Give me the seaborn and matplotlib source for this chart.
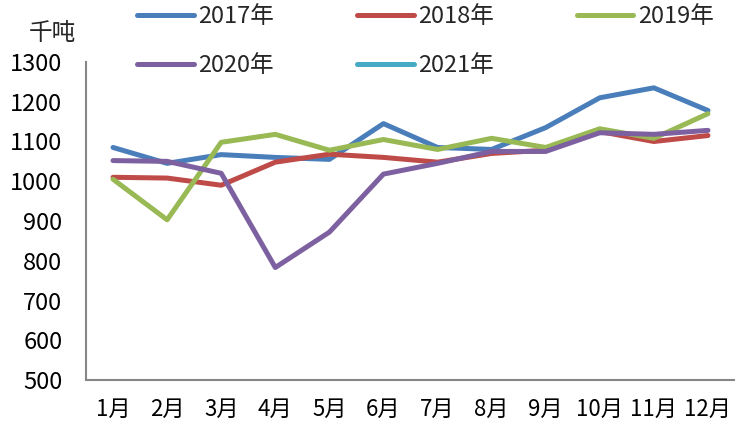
import pandas as pd
import seaborn as sns
import matplotlib
matplotlib.use("Agg")
import matplotlib.pyplot as plt
from matplotlib.ticker import FixedLocator, MultipleLocator

# monthly output, thousand tonnes
months = ["1月", "2月", "3月", "4月", "5月", "6月", "7月", "8月", "9月", "10月", "11月", "12月"]
y2017 = [1085, 1045, 1067, 1060, 1055, 1145, 1085, 1080, 1135, 1210, 1235, 1178]
y2018 = [1010, 1008, 990, 1048, 1068, 1060, 1048, 1070, 1078, 1125, 1100, 1115]
y2019 = [1005, 903, 1098, 1118, 1078, 1105, 1080, 1108, 1085, 1132, 1108, 1170]
y2020 = [1052, 1050, 1020, 783, 872, 1018, 1045, 1075, 1075, 1122, 1118, 1128]
y2021 = []  # only in the legend
years = ["2017年", "2018年", "2019年", "2020年", "2021年"]
series = [y2017, y2018, y2019, y2020, y2021]
colors = ["#4A7EBB", "#BE4B48", "#98B954", "#7D60A0", "#46AAC5"]

sns.set_style("white")
plt.rcParams['font.family'] = ['Noto Sans CJK SC', 'DejaVu Sans']

fig = plt.figure(figsize=(7.35, 4.3), dpi=100)
ax = fig.add_axes([86 / 735, 50 / 430, 649 / 735, 318 / 430])

for name, vals, c in zip(years, series, colors):
    if vals:
        df = pd.DataFrame({"month": list(range(len(vals))), "value": vals})
        sns.lineplot(data=df, x="month", y="value", color=c, linewidth=3.6,
                     label=name, ax=ax, solid_capstyle="round", legend=False)
    else:
        ax.plot([], [], color=c, linewidth=3.6, label=name, solid_capstyle="round")

ax.set_xlim(-0.5, len(months) - 0.5)
ax.set_ylim(500, 1300)
ax.yaxis.set_major_locator(MultipleLocator(100))
ax.set_xticks(range(len(months)))
ax.set_xticklabels(months)
ax.xaxis.set_minor_locator(FixedLocator([i + 0.5 for i in range(len(months) - 1)]))
ax.set_xlabel("")
ax.set_ylabel("")

gray = "#868686"
for s in ["top", "right"]:
    ax.spines[s].set_visible(False)
for s in ["left", "bottom"]:
    ax.spines[s].set_color(gray)
    ax.spines[s].set_linewidth(1.5)

ax.tick_params(axis="x", which="major", length=0, pad=13, labelsize=16, colors="black")
ax.tick_params(axis="x", which="minor", direction="in", length=5, width=1.4, color=gray)
ax.tick_params(axis="y", direction="in", length=5, width=1.4, color=gray,
               pad=17, labelsize=17, labelcolor="black")

fig.text(52 / 735, 1 - 33 / 430, "千吨", ha="center", va="center", fontsize=17)

# legend is filled column by column, reorder so it reads row by row like the original
handles, labels = ax.get_legend_handles_labels()
order = [0, 3, 1, 4, 2]
fig.legend([handles[i] for i in order], [labels[i] for i in order], ncol=3,
           loc="upper left", bbox_to_anchor=(137 / 735, 1 - 5 / 430),
           frameon=False, fontsize=17, handlelength=2.4, handletextpad=0.2,
           columnspacing=3.5, labelspacing=1.12, borderpad=0, borderaxespad=0)

fig.savefig("out.png", dpi=100)
